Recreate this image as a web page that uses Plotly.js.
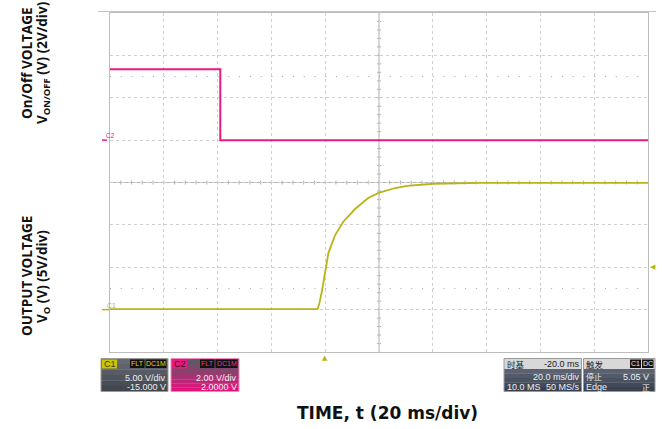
<!DOCTYPE html>
<html><head><meta charset="utf-8">
<script src="https://cdn.plot.ly/plotly-3.0.1.min.js"></script>
<style>html,body{margin:0;padding:0;background:#fff;}#chart{width:662px;height:429px;}</style>
</head><body><div id="chart"></div>
<script>
// ---- data (read from the scope capture) ----
const timeC1 = [-80, -2.9, -2.7, -2.2, -1.2, 0, 1.2, 3.7, 6.8, 11.2, 16.1, 20.1, 26.0, 30.4, 40.3, 57.6, 80, 120]; // ms
const voltC1 = [0.05, 0.05, 0.2, 0.7, 2.2, 4.5, 6.7, 8.8, 10.4, 11.9, 13.2, 13.8, 14.35, 14.6, 14.85, 14.95, 14.95, 14.95]; // V
const timeC2 = [-80, -39, -39, 120]; // ms
const voltC2 = [3.35, 3.35, 0, 0]; // V
const triggerTime = 0;     // ms
const triggerLevel = 5.05; // V
const c1Scale = 5, c1Offset = -15; // V/div, V
const c2Scale = 2, c2Offset = 2;   // V/div, V
const timeScale = 20;              // ms/div
const timeStart = -80;             // ms
const c1Info = ['C1', 'FLT', 'DC1M', '5.00 V/div', '-15.000 V'];
const c2Info = ['C2', 'FLT', 'DC1M', '2.00 V/div', '2.0000 V'];
const timebaseInfo = ['时基', '-20.0 ms', '20.0 ms/div', '10.0 MS', '50 MS/s'];
const triggerInfo = ['触发', 'C1', 'DC', '停止', '5.05 V', 'Edge', '正'];

// ---- derived ranges ----
const xRange = [timeStart, timeStart + 10 * timeScale];
const c1Center = -c1Offset, c2Center = -c2Offset;
const y1Range = [c1Center - 4 * c1Scale, c1Center + 4 * c1Scale];
const y2Range = [c2Center - 4 * c2Scale, c2Center + 4 * c2Scale];
const xCenter = (xRange[0] + xRange[1]) / 2;

const PINK = '#ea1a82', YEL = '#b9b416';
const L = 110, R = 648, T = 13, B = 352;
const px = x => (x - L) / (R - L);
const py = y => (B - y) / (B - T);

const shapes = [];
const annotations = [];
function rect(x0, y0, x1, y1, fill, line) {
  shapes.push({type: 'rect', xref: 'paper', yref: 'paper', x0: px(x0), x1: px(x1), y0: py(y0), y1: py(y1),
    fillcolor: fill, line: line ? {color: line, width: 1} : {width: 0}, layer: 'above'});
}
function grad(x0, y0, x1, y1, c0, c1, n) {
  const h = (y1 - y0) / n;
  const p = c => [parseInt(c.slice(1,3),16), parseInt(c.slice(3,5),16), parseInt(c.slice(5,7),16)];
  const a = p(c0), b = p(c1);
  for (let i = 0; i < n; i++) {
    const f = n === 1 ? 0 : i / (n - 1);
    const c = 'rgb(' + a.map((v, k) => Math.round(v + (b[k] - v) * f)).join(',') + ')';
    rect(x0, y0 + i * h, x1, y0 + (i + 1) * h + 0.3, c);
  }
}
function txt(x, y, text, o) {
  o = o || {};
  annotations.push({xref: 'paper', yref: 'paper', x: px(x), y: py(y), text: text, showarrow: false,
    xanchor: o.xa || 'left', yanchor: 'middle', bgcolor: o.bg, borderpad: 0,
    font: {family: o.family || 'Liberation Sans, Arial, sans-serif', size: o.size || 8.5, color: o.color || '#f0f0f0'}});
}
const CJK = 'Noto Sans CJK SC';

// centre crosshair and its minor ticks
shapes.push({type: 'line', xref: 'paper', yref: 'y', x0: 0, x1: 1, y0: c1Center, y1: c1Center, line: {color: '#b4b4b4', width: 1}, layer: 'below'});
shapes.push({type: 'line', xref: 'x', yref: 'paper', x0: xCenter, x1: xCenter, y0: 0, y1: 1, line: {color: '#b4b4b4', width: 1}, layer: 'below'});
for (let k = 1; k < 50; k++) {
  const t = xRange[0] + k * timeScale / 5;
  shapes.push({type: 'line', xref: 'x', yref: 'y', ysizemode: 'pixel', yanchor: c1Center, x0: t, x1: t, y0: -2, y1: 2, line: {color: '#b4b4b4', width: 1}, layer: 'below'});
}
for (let k = 1; k < 40; k++) {
  const v = y1Range[0] + k * c1Scale / 5;
  shapes.push({type: 'line', xref: 'x', yref: 'y', xsizemode: 'pixel', xanchor: xCenter, y0: v, y1: v, x0: -2, x1: 2, line: {color: '#b4b4b4', width: 1}, layer: 'below'});
}
// dotted half-division guide lines
[c1Center - 2.5 * c1Scale, c1Center + 2.5 * c1Scale].forEach(v => {
  shapes.push({type: 'line', xref: 'paper', yref: 'y', x0: 0, x1: 1, y0: v, y1: v, line: {color: '#a0a0a0', width: 1, dash: '1px,9.76px'}, layer: 'below'});
});
// top separator line
shapes.push({type: 'line', xref: 'paper', yref: 'paper', x0: px(98), x1: px(656), y0: py(11.5), y1: py(11.5), line: {color: '#c4c4c4', width: 1}});
// ground markers
shapes.push({type: 'line', xref: 'paper', yref: 'y', x0: px(102), x1: px(109), y0: 0, y1: 0, line: {color: YEL, width: 1.5}});
shapes.push({type: 'line', xref: 'paper', yref: 'y2', x0: px(102), x1: px(107), y0: 0, y1: 0, line: {color: PINK, width: 1.5}});
annotations.push({xref: 'paper', yref: 'y', x: px(105.5), y: 0, yanchor: 'bottom', text: 'C1', showarrow: false, borderpad: 0, font: {size: 7, color: YEL, family: 'Liberation Sans'}});
annotations.push({xref: 'paper', yref: 'y2', x: px(105), y: 0, yanchor: 'bottom', text: 'C2', showarrow: false, borderpad: 0, font: {size: 6.5, color: PINK, family: 'Liberation Sans'}});
// trigger markers
annotations.push({xref: 'x', yref: 'paper', x: triggerTime, y: py(352.5), yanchor: 'top', text: '▲', showarrow: false, borderpad: 0, font: {size: 7, color: YEL, family: 'DejaVu Sans'}});
annotations.push({xref: 'paper', yref: 'y', x: px(649), y: triggerLevel, xanchor: 'left', text: '◀', showarrow: false, borderpad: 0, font: {size: 7, color: YEL, family: 'DejaVu Sans'}});

// ---- channel info boxes ----
grad(101, 358.5, 168, 391.5, '#646974', '#41464f', 6);
rect(101, 358.5, 168, 391.5, 'rgba(0,0,0,0)', '#9a9a9a');
rect(102, 359.5, 117, 368.5, '#cbc600');
txt(103, 364, c1Info[0], {color: '#3a3a10', size: 9});
rect(130, 359.5, 144.5, 368, '#111111');
rect(145.5, 359.5, 166.5, 368, '#111111');
txt(137.25, 363.8, c1Info[1], {xa: 'center', color: '#e2dc00', size: 7});
txt(156, 363.8, c1Info[2], {xa: 'center', color: '#e2dc00', size: 7});
txt(166.5, 377.5, c1Info[3], {xa: 'right', size: 9});
txt(166.5, 387, c1Info[4], {xa: 'right', size: 9});

grad(171, 358.5, 239, 391.5, '#5b5a66', '#e2127c', 8);
rect(171, 358.5, 239, 391.5, 'rgba(0,0,0,0)', '#f08ac0');
rect(172, 359.5, 187, 368.5, PINK);
txt(173, 364, c2Info[0], {color: '#3a0a20', size: 9});
rect(200, 359.5, 214.5, 368, '#111111');
rect(215.5, 359.5, 237.5, 368, '#111111');
txt(207.25, 363.8, c2Info[1], {xa: 'center', color: '#f0309a', size: 7});
txt(226.5, 363.8, c2Info[2], {xa: 'center', color: '#f0309a', size: 7});
txt(237.5, 377.5, c2Info[3], {xa: 'right', size: 9});
txt(237.5, 387, c2Info[4], {xa: 'right', size: 9});

// timebase box
grad(504, 369, 581.5, 391.5, '#5a6272', '#3a4250', 5);
rect(504, 358.5, 581.5, 369, '#d8d8d8');
rect(504, 358.5, 581.5, 391.5, 'rgba(0,0,0,0)', '#9a9a9a');
txt(506, 363.8, timebaseInfo[0], {color: '#222', size: 8.5, family: CJK});
txt(580.5, 363.8, timebaseInfo[1], {xa: 'right', color: '#222', size: 9});
txt(580.5, 376.5, timebaseInfo[2], {xa: 'right', size: 9});
txt(505.5, 387, timebaseInfo[3], {size: 9});
txt(580.5, 387, timebaseInfo[4], {xa: 'right', size: 9});

// trigger box
grad(583.5, 369, 655, 391.5, '#5a6272', '#3a4250', 5);
rect(583.5, 358.5, 655, 369, '#d8d8d8');
rect(583.5, 358.5, 655, 391.5, 'rgba(0,0,0,0)', '#9a9a9a');
txt(585, 363.8, triggerInfo[0], {color: '#222', size: 8.5, family: CJK});
rect(630, 359.5, 641, 368, '#111111');
rect(642, 359.5, 653.5, 368, '#111111');
txt(635.5, 363.8, triggerInfo[1], {xa: 'center', color: '#eee', size: 7});
txt(647.75, 363.8, triggerInfo[2], {xa: 'center', color: '#eee', size: 7});
txt(585, 376.3, triggerInfo[3], {size: 8, family: CJK});
txt(650, 376.5, triggerInfo[4], {xa: 'right', size: 9});
txt(585, 387, triggerInfo[5], {size: 9});
txt(651, 387.2, triggerInfo[6], {xa: 'right', size: 8, family: CJK});

// ---- axis titles ----
const TF = 'Open Sans, sans-serif';
annotations.push({xref: 'paper', yref: 'paper', x: px(387), y: py(413), text: '<b>TIME, t (20 ms/div)</b>', showarrow: false, xanchor: 'center', yanchor: 'middle', font: {family: 'DejaVu Sans, sans-serif', size: 17, color: '#111'}});
annotations.push({xref: 'paper', yref: 'paper', x: px(27), y: py(63), text: '<b>On/Off VOLTAGE</b>', textangle: -90, showarrow: false, xanchor: 'center', yanchor: 'middle', font: {family: TF, size: 13.5, color: '#111'}});
annotations.push({xref: 'paper', yref: 'paper', x: px(43), y: py(63), text: '<b>V<sub>ON/OFF</sub> (V) (2V/div)</b>', textangle: -90, showarrow: false, xanchor: 'center', yanchor: 'middle', font: {family: TF, size: 13.5, color: '#111'}});
annotations.push({xref: 'paper', yref: 'paper', x: px(27), y: py(276), text: '<b>OUTPUT VOLTAGE</b>', textangle: -90, showarrow: false, xanchor: 'center', yanchor: 'middle', font: {family: TF, size: 13.5, color: '#111'}});
annotations.push({xref: 'paper', yref: 'paper', x: px(43), y: py(277), text: '<b>V<sub>O</sub> (V) (5V/div)</b>', textangle: -90, showarrow: false, xanchor: 'center', yanchor: 'middle', font: {family: TF, size: 13.5, color: '#111'}});

const traces = [
  {x: timeC2, y: voltC2, yaxis: 'y2', mode: 'lines', line: {color: PINK, width: 2}, hoverinfo: 'skip', name: 'C2'},
  {x: timeC1, y: voltC1, yaxis: 'y', mode: 'lines', line: {color: YEL, width: 1.8}, hoverinfo: 'skip', name: 'C1'}
];
const gridStyle = {showgrid: true, gridcolor: '#cfcfcf', griddash: 'dot', gridwidth: 1, zeroline: false,
  showline: true, mirror: true, linecolor: '#bdbdbd', linewidth: 1, showticklabels: false, ticks: ''};
const layout = {
  width: 662, height: 429, margin: {l: L, r: 662 - R, t: T, b: 429 - B},
  paper_bgcolor: '#fff', plot_bgcolor: '#fff', showlegend: false,
  xaxis: Object.assign({range: xRange, tick0: xRange[0], dtick: timeScale}, gridStyle),
  yaxis: Object.assign({range: y1Range, tick0: y1Range[0], dtick: c1Scale}, gridStyle),
  yaxis2: {range: y2Range, overlaying: 'y', visible: false, showgrid: false, zeroline: false},
  shapes: shapes, annotations: annotations
};
Plotly.newPlot('chart', traces, layout, {staticPlot: true, displayModeBar: false});
</script></body></html>
